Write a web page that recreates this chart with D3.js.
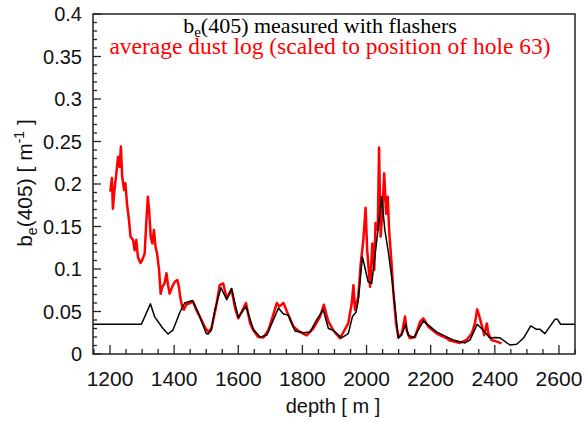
<!DOCTYPE html>
<html><head><meta charset="utf-8">
<script src="https://cdn.jsdelivr.net/npm/d3@7"></script>
<style>body{margin:0;background:#fff}svg{display:block}</style>
</head><body>
<script>
// black: flasher measurement [depth, value]
const flasherDepth = [1147,1298,1326,1339,1365,1381,1396,1419,1433,1457,1474,1500,1506,1516,1527,1546,1564,1579,1600,1624,1647,1668,1689,1725,1741,1756,1777,1803,1824,1844,1865,1881,1896,1922,1943,1956,1967,1974,1987,2005,2016,2032,2047,2057,2068,2081,2099,2109,2122,2130,2148,2161,2177,2193,2218,2245,2270,2307,2323,2345,2364,2385,2400,2416,2447,2468,2489,2512,2530,2541,2556,2588,2595,2605,2650];
const flasherValue = [0.035,0.035,0.059,0.044,0.030,0.0235,0.028,0.050,0.060,0.063,0.050,0.024,0.0235,0.028,0.052,0.078,0.064,0.077,0.043,0.056,0.029,0.020,0.022,0.054,0.047,0.046,0.027,0.025,0.026,0.040,0.052,0.030,0.028,0.019,0.024,0.044,0.049,0.062,0.1145,0.085,0.083,0.134,0.185,0.146,0.120,0.083,0.0185,0.022,0.035,0.022,0.0195,0.028,0.039,0.034,0.026,0.021,0.0165,0.013,0.0165,0.035,0.028,0.0185,0.0195,0.019,0.0106,0.0114,0.0185,0.033,0.029,0.029,0.024,0.041,0.041,0.035,0.035];
// red: average dust log
const dustDepth = [1201,1206,1209,1215,1220,1225,1230,1234,1238,1244,1248,1253,1259,1264,1272,1277,1282,1287,1295,1301,1308,1313,1318,1322,1327,1332,1337,1342,1347,1353,1358,1363,1370,1376,1381,1386,1394,1402,1410,1415,1419,1425,1430,1438,1449,1459,1469,1480,1495,1506,1516,1531,1542,1553,1564,1579,1590,1600,1611,1624,1637,1647,1662,1678,1694,1709,1720,1728,1741,1756,1772,1792,1813,1834,1855,1867,1881,1896,1917,1943,1954,1959,1964,1974,1982,1990,1997,2002,2011,2018,2024,2028,2035,2039,2044,2049,2055,2061,2066,2071,2078,2083,2092,2099,2110,2120,2125,2135,2151,2167,2177,2193,2219,2250,2260,2291,2312,2328,2338,2345,2352,2359,2367,2375,2380,2390,2406,2421];
const dustValue = [0.191,0.207,0.171,0.197,0.213,0.232,0.220,0.244,0.209,0.193,0.201,0.177,0.158,0.138,0.134,0.122,0.134,0.114,0.107,0.111,0.118,0.154,0.185,0.169,0.138,0.130,0.146,0.126,0.118,0.099,0.071,0.079,0.083,0.095,0.081,0.071,0.079,0.085,0.087,0.079,0.067,0.056,0.052,0.058,0.060,0.0615,0.052,0.044,0.032,0.026,0.030,0.056,0.081,0.083,0.0655,0.076,0.054,0.042,0.050,0.060,0.036,0.028,0.020,0.0195,0.028,0.046,0.060,0.056,0.060,0.046,0.032,0.026,0.022,0.030,0.044,0.058,0.038,0.028,0.0185,0.036,0.060,0.081,0.052,0.067,0.107,0.134,0.172,0.122,0.079,0.130,0.099,0.154,0.146,0.243,0.138,0.165,0.2125,0.165,0.185,0.142,0.107,0.075,0.036,0.020,0.024,0.044,0.028,0.0185,0.020,0.038,0.042,0.032,0.024,0.0185,0.0157,0.013,0.0165,0.024,0.036,0.0525,0.044,0.034,0.022,0.036,0.024,0.0165,0.0145,0.0125];
const xTicks = [1200,1400,1600,1800,2000,2200,2400,2600];
const yTicks = [0,0.05,0.1,0.15,0.2,0.25,0.3,0.35,0.4];

const W=585,H=422, L=93, R=575, T=14, B=354;
const svg = d3.select("body").append("svg").attr("width",W).attr("height",H);
const x = d3.scaleLinear().domain([1147,2650]).range([L,R]);
const y = d3.scaleLinear().domain([0,0.4]).range([B,T]);

const line = d3.line().x(d=>x(d[0])).y(d=>y(d[1]));
svg.append("path").datum(dustDepth.map((d,i)=>[d,dustValue[i]]))
  .attr("d",line).attr("fill","none").attr("stroke","#ff0000").attr("stroke-width",2.5).attr("stroke-linejoin","round");
svg.append("path").datum(flasherDepth.map((d,i)=>[d,flasherValue[i]]))
  .attr("d",line).attr("fill","none").attr("stroke","#000").attr("stroke-width",1.5).attr("stroke-linejoin","round");

// frame
svg.append("rect").attr("x",L).attr("y",T).attr("width",R-L).attr("height",B-T)
  .attr("fill","none").attr("stroke","#222").attr("stroke-width",1.5);

// ticks (inward)
const xMinor = d3.range(1150,2651,50);
svg.append("g").selectAll("line").data(xMinor).join("line")
  .attr("x1",d=>x(d)).attr("x2",d=>x(d)).attr("y1",B)
  .attr("y2",d=>B-(d%200===0?9:5)).attr("stroke","#222").attr("stroke-width",1.3);
const yMinor = d3.range(0,0.4001,0.01);
svg.append("g").selectAll("line").data(yMinor).join("line")
  .attr("y1",d=>y(d)).attr("y2",d=>y(d)).attr("x1",L)
  .attr("x2",(d,i)=>L+(i%5===0?8:4)).attr("stroke","#222").attr("stroke-width",1.3);

const sans = "Liberation Sans, Arial, sans-serif";
svg.append("g").selectAll("text").data(xTicks).join("text")
  .attr("x",d=>x(d)).attr("y",386).attr("text-anchor","middle")
  .attr("font-family",sans).attr("font-size",21).attr("fill","#111").text(d=>d);
svg.append("g").selectAll("text").data(yTicks).join("text")
  .attr("x",82).attr("y",d=>y(d)+7).attr("text-anchor","end")
  .attr("font-family",sans).attr("font-size",20).attr("fill","#111").text(d=>d);

svg.append("text").attr("x",333).attr("y",413).attr("text-anchor","middle")
  .attr("font-family",sans).attr("font-size",20).attr("fill","#111").text("depth [ m ]");

const yl = svg.append("text").attr("transform","translate(32,183) rotate(-90)").attr("text-anchor","middle")
  .attr("font-family",sans).attr("font-size",21).attr("fill","#111");
yl.append("tspan").text("b");
yl.append("tspan").attr("font-size",14).attr("dy",5).text("e");
yl.append("tspan").attr("dy",-5).text("(405) [ m");
yl.append("tspan").attr("font-size",14).attr("dy",-8).text("-1");
yl.append("tspan").attr("dy",8).text(" ]");

const serif = "Liberation Serif, Times New Roman, serif";
const t1 = svg.append("text").attr("x",320).attr("y",33).attr("text-anchor","middle")
  .attr("font-family",serif).attr("font-size",22).attr("fill","#000");
t1.append("tspan").text("b");
t1.append("tspan").attr("font-size",15).attr("dy",4).text("e");
t1.append("tspan").attr("dy",-4).text("(405) measured with flashers");
svg.append("text").attr("x",330).attr("y",54).attr("text-anchor","middle")
  .attr("font-family",serif).attr("font-size",23.5).attr("fill","#ff0000")
  .text("average dust log (scaled to position of hole 63)");
</script>
</body></html>
